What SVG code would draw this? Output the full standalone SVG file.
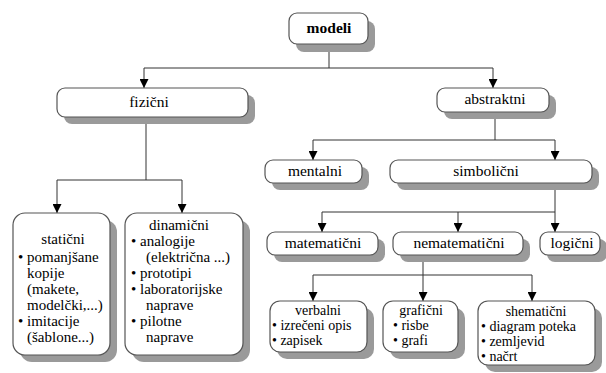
<svg xmlns="http://www.w3.org/2000/svg" width="606" height="373" viewBox="0 0 606 373" font-family="Liberation Serif, Times New Roman, serif">
  <style>
    .shadow { fill: #9a9a9a; }
    .box { fill: #ffffff; stroke: #555555; stroke-width: 1.2; }
    .lbl { font-size: 15.5px; }
    .sm { font-size: 14px; }
    .md { font-size: 15px; }
    .mid { text-anchor: middle; }
    .bold { font-weight: bold; }
    .wire { fill: none; stroke: #333333; stroke-width: 1; }
  </style>
  <defs>
    <marker id="arrow" viewBox="0 0 10 10" refX="10" refY="5" markerWidth="9" markerHeight="9" markerUnits="userSpaceOnUse" orient="auto">
      <path d="M0,0 L10,5 L0,10 Z" fill="#000000"/>
    </marker>
  </defs>
  <rect width="606" height="373" fill="#ffffff"/>

  <!-- connectors -->
  <g id="connectors" class="wire">
    <path d="M329,44 V68"/>
    <path d="M144,68 V88" marker-end="url(#arrow)"/>
    <path d="M493,68 V88" marker-end="url(#arrow)"/>
    <path d="M144,68 H493"/>

    <path d="M146,117 V180"/>
    <path d="M57,180 H182"/>
    <path d="M57,180 V213" marker-end="url(#arrow)"/>
    <path d="M182,180 V213" marker-end="url(#arrow)"/>

    <path d="M495,112 V140"/>
    <path d="M313,140 H555"/>
    <path d="M313,140 V160" marker-end="url(#arrow)"/>
    <path d="M555,140 V160" marker-end="url(#arrow)"/>

    <path d="M555,183 V212"/>
    <path d="M322,212 H555"/>
    <path d="M322,212 V232" marker-end="url(#arrow)"/>
    <path d="M458,212 V232" marker-end="url(#arrow)"/>
    <path d="M555,212 V232" marker-end="url(#arrow)"/>

    <path d="M423,255 V275"/>
    <path d="M313,275 H532"/>
    <path d="M313,275 V301" marker-end="url(#arrow)"/>
    <path d="M423,275 V301" marker-end="url(#arrow)"/>
    <path d="M532,275 V301" marker-end="url(#arrow)"/>
  </g>

  <g id="modeli">
    <rect class="shadow" x="296" y="21" width="79" height="31" rx="8"/>
    <rect class="box" x="289" y="13" width="79" height="31" rx="8"/>
    <text class="lbl mid bold" x="329" y="33" font-family="Liberation Serif">modeli</text>
  </g>

  <g id="fizicni">
    <rect class="shadow" x="64" y="95" width="191" height="29" rx="8"/>
    <rect class="box" x="57" y="88" width="191" height="29" rx="8"/>
    <text class="lbl mid" x="149" y="107" font-family="Liberation Serif">fizični</text>
  </g>

  <g id="abstraktni">
    <rect class="shadow" x="444" y="95" width="112" height="24" rx="8"/>
    <rect class="box" x="437" y="88" width="112" height="24" rx="8"/>
    <text class="lbl mid" x="495" y="104" font-family="Liberation Serif">abstraktni</text>
  </g>

  <g id="mentalni">
    <rect class="shadow" x="272" y="167" width="97" height="23" rx="8"/>
    <rect class="box" x="265" y="160" width="97" height="23" rx="8"/>
    <text class="lbl mid" x="315" y="176" font-family="Liberation Serif">mentalni</text>
  </g>

  <g id="simbolicni">
    <rect class="shadow" x="397" y="167" width="202" height="23" rx="8"/>
    <rect class="box" x="390" y="160" width="202" height="23" rx="8"/>
    <text class="lbl mid" x="486" y="176" font-family="Liberation Serif">simbolični</text>
  </g>

  <g id="matematicni">
    <rect class="shadow" x="274" y="239" width="111" height="23" rx="8"/>
    <rect class="box" x="267" y="232" width="111" height="23" rx="8"/>
    <text class="lbl mid" x="323" y="248" font-family="Liberation Serif">matematični</text>
  </g>

  <g id="nematematicni">
    <rect class="shadow" x="400" y="239" width="130" height="23" rx="8"/>
    <rect class="box" x="393" y="232" width="130" height="23" rx="8"/>
    <text class="lbl mid" x="459" y="248" font-family="Liberation Serif">nematematični</text>
  </g>

  <g id="logicni">
    <rect class="shadow" x="547" y="239" width="60" height="23" rx="8"/>
    <rect class="box" x="540" y="232" width="60" height="23" rx="8"/>
    <text class="lbl mid" x="572" y="248" font-family="Liberation Serif">logični</text>
  </g>

  <g id="staticni" font-family="Liberation Serif">
    <rect class="shadow" x="20" y="220" width="97" height="142" rx="12"/>
    <rect class="box" x="13" y="213" width="97" height="142" rx="12"/>
    <text class="md mid" x="63" y="244">statični</text>
    <text class="md" x="18" y="262">• pomanjšane</text>
    <text class="md" x="27" y="278">kopije</text>
    <text class="md" x="27" y="294">(makete,</text>
    <text class="md" x="27" y="310">modelčki,...)</text>
    <text class="md" x="18" y="326">• imitacije</text>
    <text class="md" x="27" y="342">(šablone...)</text>
  </g>

  <g id="dinamicni" font-family="Liberation Serif">
    <rect class="shadow" x="132" y="220" width="118" height="142" rx="12"/>
    <rect class="box" x="125" y="213" width="118" height="142" rx="12"/>
    <text class="md mid" x="179" y="230">dinamični</text>
    <text class="md" x="131" y="246">• analogije</text>
    <text class="md" x="146" y="262">(električna ...)</text>
    <text class="md" x="131" y="278">• prototipi</text>
    <text class="md" x="131" y="294">• laboratorijske</text>
    <text class="md" x="146" y="310">naprave</text>
    <text class="md" x="131" y="326">• pilotne</text>
    <text class="md" x="146" y="342">naprave</text>
  </g>

  <g id="verbalni" font-family="Liberation Serif">
    <rect class="shadow" x="277" y="308" width="97" height="51" rx="10"/>
    <rect class="box" x="270" y="301" width="97" height="51" rx="10"/>
    <text class="sm mid" x="318" y="315">verbalni</text>
    <text class="sm" x="272" y="330">• izrečeni opis</text>
    <text class="sm" x="272" y="345">• zapisek</text>
  </g>

  <g id="graficni" font-family="Liberation Serif">
    <rect class="shadow" x="390" y="308" width="75" height="51" rx="10"/>
    <rect class="box" x="383" y="301" width="75" height="51" rx="10"/>
    <text class="sm mid" x="421" y="315">grafični</text>
    <text class="sm" x="393" y="330">• risbe</text>
    <text class="sm" x="393" y="345">• grafi</text>
  </g>

  <g id="shematicni" font-family="Liberation Serif">
    <rect class="shadow" x="485" y="308" width="117" height="64" rx="10"/>
    <rect class="box" x="478" y="301" width="117" height="64" rx="10"/>
    <text class="sm mid" x="536" y="316">shematični</text>
    <text class="sm" x="481" y="331">• diagram poteka</text>
    <text class="sm" x="481" y="346">• zemljevid</text>
    <text class="sm" x="481" y="361">• načrt</text>
  </g>
</svg>
